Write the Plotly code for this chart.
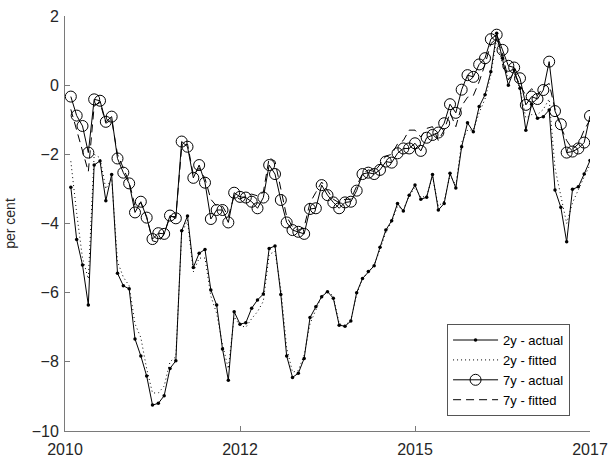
import plotly.graph_objects as go

# Monthly observations, index 0 = Jan 2010
month_idx = list(range(90))

tick_pos = [-1, 29, 59, 89]
tick_labels = ["2010", "2012", "2015", "2017"]

y2_actual = [-2.95, -4.46, -5.20, -6.36, -2.31, -2.19, -3.34, -2.58, -5.44, -5.80,
             -5.89, -7.34, -7.83, -8.41, -9.25, -9.20, -8.98, -8.19, -7.97, -4.21,
             -3.78, -5.27, -4.86, -4.75, -5.92, -6.36, -7.63, -8.53, -6.55, -6.91,
             -6.87, -6.45, -6.21, -6.04, -4.72, -4.65, -6.05, -7.83, -8.45, -8.33,
             -7.90, -6.72, -6.41, -6.12, -5.97, -6.16, -6.94, -6.97, -6.82, -6.00,
             -5.59, -5.39, -5.22, -4.69, -4.19, -3.92, -3.42, -3.64, -3.18, -2.89,
             -3.30, -3.24, -2.58, -3.61, -3.42, -2.55, -2.97, -1.78, -1.09, -1.35,
             -0.62, -0.28, 0.39, 1.50, 0.78, 0.00, 0.44, -0.09, -1.30, -0.55,
             -0.96, -0.91, -0.72, -3.03, -3.53, -4.53, -3.01, -2.94, -2.57, -2.18]

y2_fitted = [-2.20, -3.70, -5.00, -5.60, -2.00, -2.10, -3.00, -2.70, -5.10, -5.55,
             -5.80, -6.90, -7.30, -8.20, -8.90, -8.90, -8.70, -8.00, -7.85, -4.30,
             -3.90, -5.40, -5.00, -5.00, -6.10, -6.60, -7.50, -8.20, -6.70, -6.95,
             -7.00, -6.75, -6.55, -6.25, -4.90, -4.80, -5.90, -7.60, -8.30, -8.25,
             -7.80, -6.90, -6.50, -6.10, -5.95, -6.10, -6.90, -6.95, -6.80, -6.05,
             -5.60, -5.40, -5.20, -4.75, -4.25, -3.95, -3.50, -3.60, -3.20, -2.95,
             -3.25, -3.20, -2.65, -3.50, -3.35, -2.60, -2.90, -1.65, -1.30, -1.30,
             -0.80, -0.40, 0.30, 1.35, 0.60, 0.20, 0.35, -0.10, -0.95, -0.85,
             -0.85, -0.70, -0.40, -2.40, -3.20, -4.00, -3.40, -3.00, -2.65, -2.30]

y7_actual = [-0.33, -0.88, -1.18, -1.95, -0.41, -0.45, -1.06, -0.91, -2.12, -2.53,
             -2.84, -3.68, -3.37, -3.83, -4.45, -4.28, -4.30, -3.77, -3.85, -1.63,
             -1.78, -2.68, -2.31, -2.82, -3.87, -3.61, -3.61, -3.97, -3.11, -3.23,
             -3.25, -3.37, -3.56, -3.25, -2.31, -2.57, -3.32, -3.97, -4.19, -4.24,
             -4.30, -3.58, -3.56, -2.89, -3.18, -3.39, -3.56, -3.39, -3.37, -3.05,
             -2.57, -2.53, -2.57, -2.45, -2.21, -2.24, -1.97, -1.83, -1.83, -1.68,
             -1.90, -1.52, -1.44, -1.37, -1.10, -0.55, -0.80, -0.13, 0.29, 0.24,
             0.60, 0.78, 1.33, 1.46, 1.02, 0.56, 0.51, 0.20, -0.57, -0.33,
             -0.40, -0.14, 0.68, -0.75, -1.13, -1.95, -1.92, -1.83, -1.66, -0.89]

y7_fitted = [-0.70, -1.30, -1.90, -2.50, -0.60, -0.50, -1.10, -1.00, -2.00, -2.40,
             -2.80, -3.50, -3.40, -3.80, -4.50, -4.55, -4.30, -3.80, -3.80, -1.80,
             -1.70, -2.60, -2.40, -2.70, -3.30, -3.50, -3.50, -3.80, -3.20, -3.30,
             -3.20, -3.15, -3.20, -3.10, -2.10, -2.20, -3.00, -3.80, -4.10, -4.20,
             -4.10, -3.40, -3.10, -2.80, -3.05, -3.30, -3.40, -3.30, -3.30, -2.90,
             -2.55, -2.45, -2.50, -2.30, -2.05, -2.00, -1.70, -1.60, -1.30, -1.30,
             -1.50, -1.25, -1.20, -1.60, -1.30, -0.80, -1.20, -0.60, -0.35, -0.30,
             0.10, 0.60, 1.20, 1.35, 0.90, 0.15, 0.35, 0.00, -0.30, -0.10,
             -0.30, -0.05, 0.05, -0.70, -1.20, -1.60, -1.85, -1.70, -1.30, -1.00]

FONT = "Liberation Sans, Arial, Helvetica, sans-serif"
TXT = "#262626"
AX = "#7a7a7a"

fig = go.Figure()
fig.add_trace(go.Scatter(
    x=month_idx, y=y2_actual, name="2y - actual", mode="lines+markers",
    line=dict(color="black", width=1),
    marker=dict(symbol="circle", size=3.5, color="black"),
))
fig.add_trace(go.Scatter(
    x=month_idx, y=y2_fitted, name="2y - fitted", mode="lines",
    line=dict(color="black", width=1, dash="1px,3px"),
))
fig.add_trace(go.Scatter(
    x=month_idx, y=y7_actual, name="7y - actual", mode="lines+markers",
    line=dict(color="black", width=1),
    marker=dict(symbol="circle-open", size=11, color="black", line=dict(width=1)),
))
fig.add_trace(go.Scatter(
    x=month_idx, y=y7_fitted, name="7y - fitted", mode="lines",
    line=dict(color="black", width=1, dash="8px,5px"),
))

fig.update_layout(
    width=608, height=457,
    margin=dict(l=65, r=18, t=16, b=26, autoexpand=False),
    paper_bgcolor="white", plot_bgcolor="white",
    font=dict(family=FONT, color=TXT, size=14),
    showlegend=True,
    legend=dict(
        x=0.962, y=0.036, xanchor="right", yanchor="bottom",
        bgcolor="white", bordercolor="#555555", borderwidth=1,
        font=dict(size=13, color="black"), itemwidth=45,
        tracegroupgap=0, valign="middle",
    ),
    xaxis=dict(
        range=[-1, 89], tickmode="array", tickvals=tick_pos, ticktext=tick_labels,
        showgrid=False, zeroline=False, showline=True, linecolor=AX, linewidth=1,
        ticks="inside", ticklen=5, tickcolor=AX, tickfont=dict(size=16, color=TXT),
        ticklabelstandoff=4, mirror=False, automargin=False,
    ),
    yaxis=dict(
        range=[-10, 2], tickmode="array", tickvals=[-10, -8, -6, -4, -2, 0, 2],
        showgrid=False, zeroline=False, showline=True, linecolor=AX, linewidth=1,
        ticks="inside", ticklen=5, tickcolor=AX, tickfont=dict(size=16, color=TXT),
        ticklabelstandoff=2, automargin=False,
        title=dict(text="per cent", font=dict(size=14, color=TXT), standoff=12),
        mirror=False,
    ),
)

fig.write_html("out.html")
